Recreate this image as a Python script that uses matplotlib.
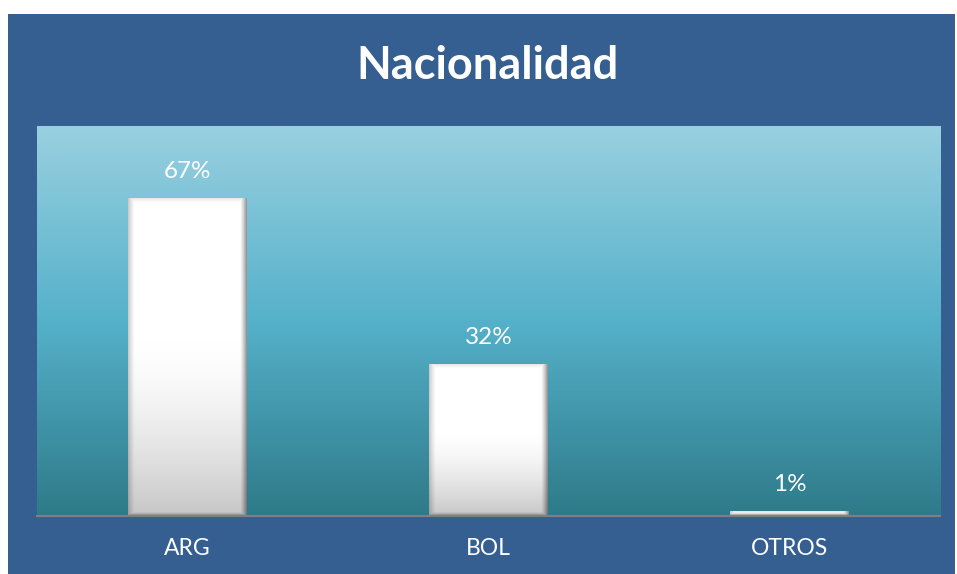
import numpy as np
import matplotlib
matplotlib.use("Agg")
import matplotlib.pyplot as plt
from matplotlib.patches import Rectangle
from matplotlib.colors import LinearSegmentedColormap

categories = ["ARG", "BOL", "OTROS"]
values = [67, 32, 1]
value_labels = ["67%", "32%", "1%"]
title = "Nacionalidad"

FONT = "Lato"
W, H, DPI = 957, 574, 100
fig = plt.figure(figsize=(W / DPI, H / DPI), dpi=DPI, facecolor="white")

# blue panel
fig.patches.append(Rectangle((8 / W, 0), (955 - 8) / W, (574 - 14) / H,
                             transform=fig.transFigure, facecolor="#365F91",
                             edgecolor="none", zorder=-5))

ax = fig.add_axes([37 / W, (H - 516) / H, (940 - 37) / W, (516 - 126) / H])
ax.set_zorder(1)
ax.set_xlim(-0.5, 2.5)
ax.set_ylim(0, 82.2)

# background gradient
bg = LinearSegmentedColormap.from_list("bg", [(0, "#2E7A89"), (0.5, "#55B1CA"), (1, "#99D0E0")])
grad = np.linspace(0, 1, 256).reshape(-1, 1)
ax.imshow(grad, extent=[0, 1, 0, 1], transform=ax.transAxes, origin="lower",
          aspect="auto", cmap=bg, zorder=0)

x = np.arange(len(categories))
bars = ax.bar(x, values, width=0.395, color="white", edgecolor="none", zorder=2)

# shaded bevel fill for each bar
for b in bars:
    x0, y0 = b.get_x(), b.get_y()
    x1, y1 = x0 + b.get_width(), y0 + b.get_height()
    (px0, py0), (px1, py1) = ax.transData.transform([(x0, y0), (x1, y1)])
    wpx = max(int(round(px1 - px0)), 2)
    hpx = max(int(round(py1 - py0)), 2)
    yy, xx = np.mgrid[0:hpx, 0:wpx].astype(float)
    v = yy / max(hpx - 1, 1)
    base = 1.0 - 0.22 * np.clip((v - 0.45) / 0.55, 0, 1) ** 1.5
    dl = xx + 0.5
    dr = wpx - xx - 0.5
    dt = yy + 0.5
    db = hpx - yy - 0.5
    bw = 7.0
    f = base.copy()
    f = np.minimum(f, base * (1 - 0.22 * np.clip(1 - dl / bw, 0, 1) ** 1.3))
    f = np.minimum(f, base * (1 - 0.45 * np.clip(1 - dr / bw, 0, 1) ** 1.3))
    f = np.minimum(f, base * (1 - 0.10 * np.clip(1 - dt / 4, 0, 1)))
    f = np.minimum(f, base * (1 - 0.35 * np.clip(1 - db / 4, 0, 1)))
    img = np.dstack([f, f, f])
    ax.imshow(img, extent=[x0, x1, y0, y1], origin="upper", aspect="auto",
              interpolation="bilinear", zorder=3)

ax.set_xlim(-0.5, 2.5)
ax.set_ylim(0, 82.2)

for xi, v, lab in zip(x, values, value_labels):
    ax.annotate(lab, (xi, v), xytext=(0, 19), textcoords="offset points",
                ha="center", va="center", color="white", fontsize=17.5, family=FONT)

ax.set_xticks(x)
ax.set_xticklabels(categories, fontsize=16.5, color="white", family=FONT)
ax.tick_params(axis="x", length=0, pad=16)
ax.set_yticks([])
for s in ["top", "right", "left"]:
    ax.spines[s].set_visible(False)
ax.spines["bottom"].set_color("#7F7F7F")
ax.spines["bottom"].set_linewidth(1.5)
ax.spines["bottom"].set_zorder(4)
ax.set_facecolor("none")

fig.text(487.5 / W, 1 - 66 / H, title, ha="center", va="center", color="white",
         fontsize=32.5, fontweight="bold", family=FONT)

fig.savefig("out.png", dpi=DPI, facecolor="white")
